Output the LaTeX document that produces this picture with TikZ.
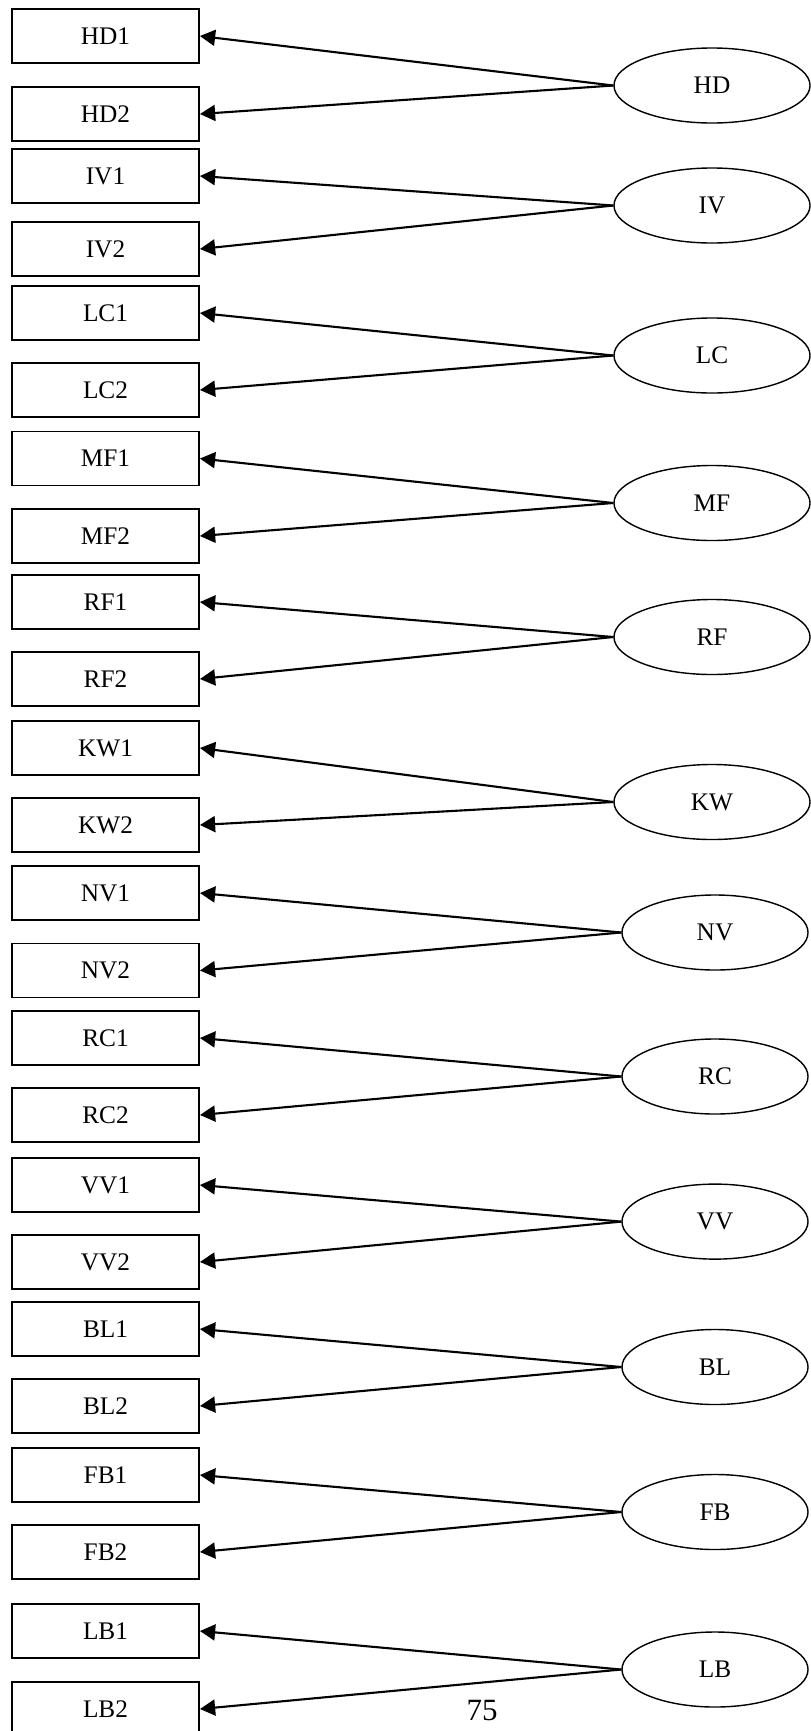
\documentclass[tikz,border=0pt]{standalone}
\usepackage{fontspec}
\setmainfont{Liberation Serif}
\usepackage{tikz}
\usetikzlibrary{shapes.geometric, arrows.meta, positioning}
\tikzstyle{arrow} = [line width=1.5pt,-{Triangle[length=3.8mm,width=4mm]}]
\tikzstyle{item} = [rectangle, minimum width=4.675cm, minimum height=1.35cm, text centered, draw=black, line width=1.3pt, font=\fontsize{18}{22}\selectfont]
\tikzstyle{factor} = [ellipse, minimum width=4.9cm, minimum height=1.875cm, text centered, draw=black, line width=1pt, font=\fontsize{18}{22}\selectfont]
\tikzstyle{narrowfactor} = [factor, minimum width=4.65cm]

\begin{document}
\begin{tikzpicture}[x=0.025cm, y=-0.025cm]
      \useasboundingbox (0,0) rectangle (810,1731);
      \node (hd1) [item] at (105.5,36) {HD1};
      \node (hd2) [item] at (105.5,114) {HD2};
      \node (hd) [factor] at (712,85.5) {HD};
      \draw [arrow] (hd.west) -- (hd1.east);
      \draw [arrow] (hd.west) -- (hd2.east);
      \node (iv1) [item] at (105.5,176) {IV1};
      \node (iv2) [item] at (105.5,249) {IV2};
      \node (iv) [factor] at (712,205.5) {IV};
      \draw [arrow] (iv.west) -- (iv1.east);
      \draw [arrow] (iv.west) -- (iv2.east);
      \node (lc1) [item] at (105.5,313) {LC1};
      \node (lc2) [item] at (105.5,390) {LC2};
      \node (lc) [factor] at (712,355.5) {LC};
      \draw [arrow] (lc.west) -- (lc1.east);
      \draw [arrow] (lc.west) -- (lc2.east);
      \node (mf1) [item] at (105.5,458.5) {MF1};
      \node (mf2) [item] at (105.5,536) {MF2};
      \node (mf) [factor] at (712,503) {MF};
      \draw [arrow] (mf.west) -- (mf1.east);
      \draw [arrow] (mf.west) -- (mf2.east);
      \node (rf1) [item] at (105.5,602) {RF1};
      \node (rf2) [item] at (105.5,679) {RF2};
      \node (rf) [factor] at (712,637) {RF};
      \draw [arrow] (rf.west) -- (rf1.east);
      \draw [arrow] (rf.west) -- (rf2.east);
      \node (kw1) [item] at (105.5,748) {KW1};
      \node (kw2) [item] at (105.5,825) {KW2};
      \node (kw) [factor] at (712,802) {KW};
      \draw [arrow] (kw.west) -- (kw1.east);
      \draw [arrow] (kw.west) -- (kw2.east);
      \node (nv1) [item] at (105.5,893) {NV1};
      \node (nv2) [item] at (105.5,970.5) {NV2};
      \node (nv) [narrowfactor] at (715,932.5) {NV};
      \draw [arrow] (nv.west) -- (nv1.east);
      \draw [arrow] (nv.west) -- (nv2.east);
      \node (rc1) [item] at (105.5,1038) {RC1};
      \node (rc2) [item] at (105.5,1115) {RC2};
      \node (rc) [narrowfactor] at (715,1076.5) {RC};
      \draw [arrow] (rc.west) -- (rc1.east);
      \draw [arrow] (rc.west) -- (rc2.east);
      \node (vv1) [item] at (105.5,1185) {VV1};
      \node (vv2) [item] at (105.5,1262) {VV2};
      \node (vv) [narrowfactor] at (715,1221.6) {VV};
      \draw [arrow] (vv.west) -- (vv1.east);
      \draw [arrow] (vv.west) -- (vv2.east);
      \node (bl1) [item] at (105.5,1329) {BL1};
      \node (bl2) [item] at (105.5,1406) {BL2};
      \node (bl) [narrowfactor] at (715,1367) {BL};
      \draw [arrow] (bl.west) -- (bl1.east);
      \draw [arrow] (bl.west) -- (bl2.east);
      \node (fb1) [item] at (105.5,1475) {FB1};
      \node (fb2) [item] at (105.5,1552) {FB2};
      \node (fb) [narrowfactor] at (715,1512) {FB};
      \draw [arrow] (fb.west) -- (fb1.east);
      \draw [arrow] (fb.west) -- (fb2.east);
      \node (lb1) [item] at (105.5,1631) {LB1};
      \node (lb2) [item] at (105.5,1709) {LB2};
      \node (lb) [narrowfactor] at (715,1669.5) {LB};
      \draw [arrow] (lb.west) -- (lb1.east);
      \draw [arrow] (lb.west) -- (lb2.east);
      \node (pagenum) at (482,1711) {\fontsize{22}{26}\selectfont 75};
    \end{tikzpicture}
\end{document}
